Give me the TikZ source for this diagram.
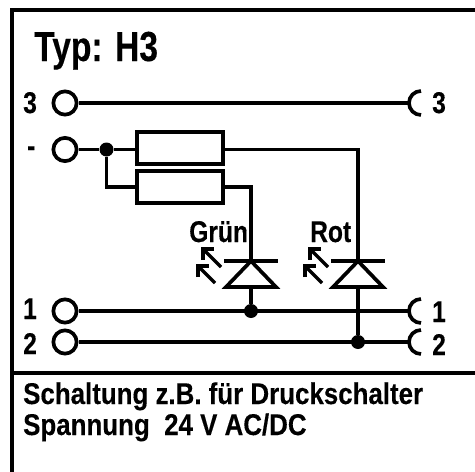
\documentclass[tikz,border=0pt]{standalone}
\usepackage{fontspec}
\setmainfont{Liberation Sans}[FakeStretch=0.8,FakeBold=0.25]
\newfontfamily\labelfont{Liberation Sans Bold}[FakeStretch=0.82,FakeBold=0.25]
\newfontfamily\notefont{Liberation Sans Bold}[FakeStretch=0.863,FakeBold=0.25]
\usetikzlibrary{arrows.meta}
\tikzset{
    wire/.style={line width=3.7pt},
    terminal/.style={circle,draw,line width=3.7pt,fill=white,minimum size=23.3pt,inner sep=0pt},
    resistor/.style={rectangle,draw,line width=3.7pt,minimum width=86pt,minimum height=32.3pt,inner sep=0pt},
    junction/.style={circle,fill=black,minimum size=14pt,inner sep=0pt},
    pinlabel/.style={anchor=base west,inner sep=0pt,font=\fontsize{30}{30}\labelfont},
    notetext/.style={anchor=base west,inner sep=0pt,font=\fontsize{30}{30}\notefont},
    ledarrow/.style={line width=3.5pt,-{Straight Barb[length=8pt,width=16pt,line width=3.5pt]}},
}
\begin{document}
\begin{tikzpicture}[x=1pt,y=-1pt]
        \useasboundingbox (0,0) rectangle (475,472);
        %% Frame
        \draw[line width=4pt] (475,9.5) -- (12,9.5) -- (12,472);
        \draw[line width=4pt] (12,373) -- (475,373);
        \node[anchor=base west,inner sep=0pt,font=\fontsize{42}{42}\bfseries] (title) at (34,61) {Typ: H3};
        %% Left terminals
        \foreach \name/\y in {a/103,b/149.5,c/311,d/342}
            \node[terminal] (\name) at (65,\y) {};
        %% Right terminals
        \foreach \name/\y in {ra/103,rc/311,rd/342} {
            \coordinate (\name) at (409,\y);
            \draw[line width=3.7pt] (421,\y+12) arc (90:270:12);
        }
        %% Pin labels
        \node[pinlabel] (la) at (23,113) {3};
        \node[pinlabel] (lb) at (27,156) {-};
        \node[pinlabel] (lc) at (23,319) {1};
        \node[pinlabel] (ld) at (23,354) {2};
        \node[pinlabel] (lra) at (432,113) {3};
        \node[pinlabel] (lrc) at (432,322) {1};
        \node[pinlabel] (lrd) at (432,355) {2};
        %% Resistors
        \node[resistor] (r1) at (180,148) {};
        \node[resistor] (r2) at (180,187) {};
        \node[junction] (j1) at (106.5,149.5) {};
        %% Diodes
        \foreach \name/\x/\y in {g/251/311,h/358/342} {
            \coordinate (top\name) at (\x,261);
            \coordinate (base\name) at (\x,288);
            \node[junction] (dot\name) at (\x,\y) {};
            \draw[line width=3.7pt] (\x-27,261) -- (\x+27,261);
            \draw[line width=3.7pt,line join=miter] (\x,261) -- (\x+25,287) -- (\x-25,287) -- cycle;
            \draw[ledarrow] (\x-30,267) -- (\x-50,247);
            \draw[ledarrow] (\x-36,283) -- (\x-55,264);
        }
        \node[pinlabel] (green) at (189,242) {Grün};
        \node[pinlabel] (red) at (310,242) {Rot};
        %% Wires
        \draw[wire] (a) -- (ra);
        \draw[wire] (c) -- (rc);
        \draw[wire] (d) -- (rd);
        \draw[wire] (b) -- (j1) -- (j1 -| r1.west);
        \draw[wire] (j1) |- (r2.west);
        \draw[wire] (r1.east |- j1) -| (toph);
        \draw[wire] (r2.east) -| (topg);
        \draw[wire] (baseg) -- (dotg);
        \draw[wire] (baseh) -- (doth);
        %% Text
        \node[notetext] (line1) at (23,404) {Schaltung z.B. für Druckschalter};
        \node[notetext] (line2) at (23,435) {Spannung\ \ 24 V AC/DC};
    \end{tikzpicture}
\end{document}
